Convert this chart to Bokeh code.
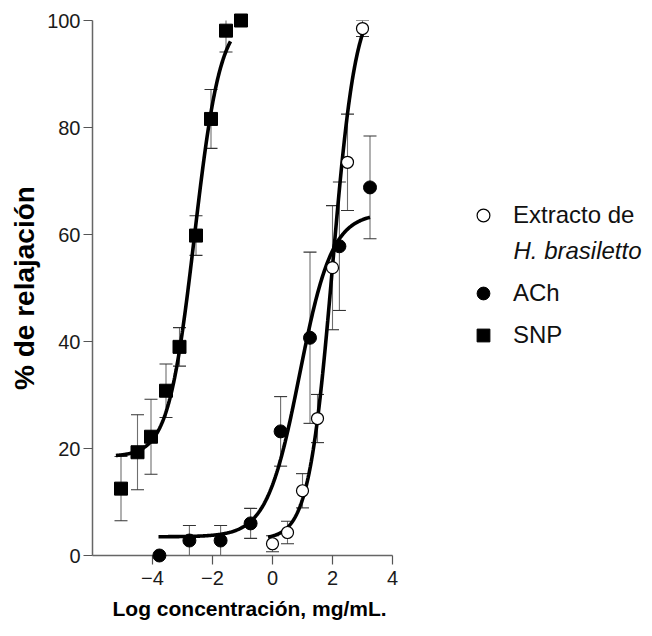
import numpy as np
from bokeh.plotting import figure
from bokeh.models import (Range1d, FixedTicker, Whisker, TeeHead, ColumnDataSource,
                          Legend, LegendItem, Label, Title)
from bokeh.embed import file_html
from bokeh.resources import INLINE

FONT = "Liberation Sans"

# ---------------- data ----------------
x_ticks = [-4, -2, 0, 2, 4]
y_ticks = [0, 20, 40, 60, 80, 100]

snp_x = [-5.05, -4.5, -4.05, -3.55, -3.1, -2.55, -2.05, -1.55, -1.05]
snp_y = [12.5, 19.3, 22.2, 30.8, 39.0, 59.8, 81.6, 98.1, 100.0]
snp_err = [6.0, 7.0, 7.0, 5.0, 3.6, 3.7, 5.5, 4.0, 0.0]

ach_x = [-3.77, -2.77, -1.73, -0.73, 0.27, 1.25, 2.23, 3.25]
ach_y = [0.0, 2.8, 2.8, 6.0, 23.2, 40.7, 57.8, 68.8]
ach_err = [0.0, 2.8, 2.8, 2.8, 6.5, 16.0, 12.0, 9.6]

ext_x = [0.0, 0.5, 1.0, 1.5, 2.0, 2.5, 3.0]
ext_y = [2.2, 4.3, 12.1, 25.6, 53.8, 73.5, 98.5]
ext_err = [1.5, 2.1, 3.2, 4.5, 11.6, 9.0, 1.5]

# fitted sigmoid (4-parameter logistic) curves: bottom, top, logEC50, hill, x-start, x-end
snp_fit = [18.5, 101.0, -2.6, 1.0, -5.22, -1.4]
ach_fit = [3.5, 64.0, 0.9, 0.8, -3.8, 3.25]
ext_fit = [3.0, 105.0, 2.0, 1.1, -0.15, 3.0]

labels = ["Extracto de", "H. brasiletto", "ACh", "SNP"]
x_label = "Log concentración, mg/mL."
y_label = "% de relajación"

x_axis_span = (-6, 4)
y_axis_span = (0, 100)


def curve(fit):
    bottom, top, ec50, hill, x0, x1 = fit
    xs = np.linspace(x0, x1, 300)
    ys = bottom + (top - bottom) / (1 + 10 ** ((ec50 - xs) * hill))
    return xs, ys


W, H = 652, 636
LEFT, TOP, BOTTOM = 92, 20, 81
px_per_unit = 30.0
x_end = x_axis_span[0] + (W - LEFT) / px_per_unit   # frame extends over the legend area

p = figure(width=W, height=H, output_backend="svg", toolbar_location=None,
           x_range=Range1d(x_axis_span[0], x_end), y_range=Range1d(*y_axis_span),
           min_border_left=LEFT, min_border_right=0, min_border_top=TOP,
           min_border_bottom=BOTTOM)
p.xgrid.visible = False
p.ygrid.visible = False
p.outline_line_color = None
p.background_fill_color = "white"

# axes
p.xaxis.ticker = FixedTicker(ticks=x_ticks)
p.yaxis.ticker = FixedTicker(ticks=y_ticks)
p.xaxis.bounds = x_axis_span
for ax in (p.xaxis[0], p.yaxis[0]):
    ax.axis_line_color = "#666666"
    ax.axis_line_width = 1.5
    ax.major_tick_line_color = "#555555"
    ax.major_tick_line_width = 1.2
    ax.major_tick_in = 0
    ax.minor_tick_line_color = None
    ax.major_label_text_font = FONT
    ax.major_label_text_font_size = "20px"
    ax.major_label_text_color = "#1a1a1a"
    ax.axis_label_text_font = FONT
    ax.axis_label_text_font_style = "bold"
    ax.axis_label_text_color = "black"
p.yaxis.major_tick_out = 9
p.yaxis.major_label_standoff = 3
p.xaxis.major_tick_out = 9
p.xaxis.major_label_standoff = 6
p.yaxis.axis_label = y_label
p.yaxis.axis_label_text_font_size = "28px"
p.yaxis.axis_label_standoff = 4

# x-axis title, centred under the axis itself (not under the wider frame)
p.add_layout(Title(text=x_label, align="left", offset=20, standoff=14,
                   text_font=FONT, text_font_style="bold", text_font_size="21px",
                   text_color="black"), "below")

# error bars
for xs, ys, es in ((snp_x, snp_y, snp_err), (ach_x, ach_y, ach_err), (ext_x, ext_y, ext_err)):
    keep = [i for i, e in enumerate(es) if e > 0]
    src = ColumnDataSource(dict(x=[xs[i] for i in keep],
                                lo=[ys[i] - es[i] for i in keep],
                                hi=[ys[i] + es[i] for i in keep]))
    w = Whisker(source=src, base="x", lower="lo", upper="hi", dimension="height",
                line_color="#6f6f6f", line_width=1.1,
                upper_head=TeeHead(size=13, line_color="#333333", line_width=1.1),
                lower_head=TeeHead(size=13, line_color="#333333", line_width=1.1))
    p.add_layout(w)

# fitted curves
for fit in (snp_fit, ach_fit, ext_fit):
    cx, cy = curve(fit)
    p.line(cx, cy, line_color="black", line_width=3.6)

# markers
r_snp = p.scatter(snp_x, snp_y, marker="square", size=13, fill_color="black",
                  line_color="black", level="overlay")
r_ach = p.scatter(ach_x, ach_y, marker="circle", size=13, fill_color="black",
                  line_color="black", level="overlay")
r_ext = p.scatter(ext_x, ext_y, marker="circle", size=12, fill_color="white",
                  line_color="black", line_width=1.2, level="overlay")

common = dict(glyph_width=32, glyph_height=32, label_height=32, label_standoff=14,
              padding=0, margin=0, spacing=10, border_line_alpha=0,
              background_fill_alpha=0, label_text_font=FONT,
              label_text_font_size="24px", label_text_color="#111111")
leg1 = Legend(items=[LegendItem(label=labels[0], renderers=[r_ext])],
              location=(375, 324), **common)
leg2 = Legend(items=[LegendItem(label=labels[2], renderers=[r_ach]),
                     LegendItem(label=labels[3], renderers=[r_snp])],
              location=(375, 204), **common)
p.add_layout(leg1)
p.add_layout(leg2)
p.add_layout(Label(x=421, y=305, x_units="screen", y_units="screen", text=labels[1],
                   text_font=FONT, text_font_style="italic", text_font_size="24px",
                   text_color="#111111", text_baseline="alphabetic"))

open("out.html", "w").write(file_html(p, INLINE))
